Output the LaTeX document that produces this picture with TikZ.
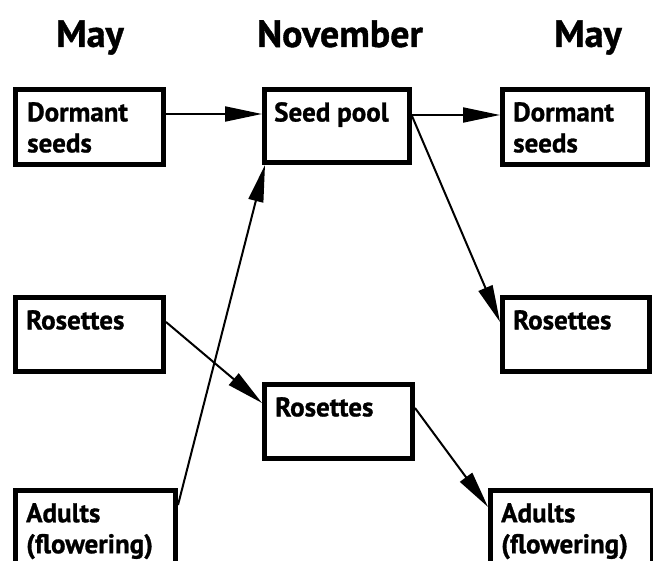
\documentclass[tikz,border=0pt]{standalone}
\usepackage{fontspec}
\setmainfont{PT Sans}[BoldFeatures={FakeBold=1}]
\usetikzlibrary{arrows.meta}
\begin{document}
\begin{tikzpicture}[x=1pt,y=-1pt,
  box/.style={draw=black, line width=5pt, fill=white, anchor=north west, inner sep=0pt},
  txt/.style={anchor=north west, inner sep=0pt, align=left, font=\bfseries\fontsize{27pt}{31pt}\selectfont},
  ttl/.style={anchor=base, inner sep=0pt, font=\bfseries\fontsize{38pt}{44pt}\selectfont},
  conn/.style={line width=2pt, -{Triangle[length=37pt,width=15pt]}}]
\useasboundingbox (0,0) rectangle (653,561);
\clip (0,0) rectangle (653,561);
\fill[white] (0,0) rectangle (653,561);
% titles
\node[ttl] (t1) at (90,47) {May};
\node[ttl] (t2) at (340,47) {November};
\node[ttl] (t3) at (588,47) {May};
% boxes (outer corners)
\node[box, minimum width=148pt, minimum height=75pt] (ds1) at (13,87) {};
\node[box, minimum width=145pt, minimum height=73pt] (sp) at (262,87) {};
\node[box, minimum width=145pt, minimum height=75pt] (ds2) at (500,87) {};
\node[box, minimum width=148pt, minimum height=74pt] (r1) at (13,295) {};
\node[box, minimum width=148pt, minimum height=74pt] (r2) at (262,382) {};
\node[box, minimum width=147pt, minimum height=74pt] (r3) at (500,295) {};
\node[box, minimum width=160pt, minimum height=120pt] (a1) at (13,488) {};
\node[box, minimum width=162pt, minimum height=120pt] (a2) at (488,488) {};
% texts
\node[txt] (l1) at ([xshift=14pt,yshift=-15pt]ds1.north west) {Dormant\\seeds};
\node[txt] (l2) at ([xshift=12pt,yshift=-15pt]sp.north west) {Seed pool};
\node[txt] (l3) at ([xshift=13pt,yshift=-15pt]ds2.north west) {Dormant\\seeds};
\node[txt] (l4) at ([xshift=13pt,yshift=-15pt]r1.north west) {Rosettes};
\node[txt] (l5) at ([xshift=13pt,yshift=-15pt]r2.north west) {Rosettes};
\node[txt] (l6) at ([xshift=13pt,yshift=-15pt]r3.north west) {Rosettes};
\node[txt] (l7) at ([xshift=13pt,yshift=-15pt]a1.north west) {Adults\\(flowering)};
\node[txt] (l8) at ([xshift=13pt,yshift=-15pt]a2.north west) {Adults\\(flowering)};
% connectors
\draw[conn] ([yshift=-27pt]ds1.north east) -- ([yshift=-27pt]sp.north west);
\draw[conn] ([yshift=-28pt]sp.north east) -- ([yshift=-28pt]ds2.north west);
\draw[conn] ([yshift=-29pt]sp.north east) -- ([yshift=-27pt]r3.north west);
\draw[conn] ([yshift=-27pt]r1.north east) -- ([yshift=-21pt]r2.north west);
\draw[conn] ([yshift=-17pt]a1.north east) -- ([xshift=3pt]sp.south west);
\draw[conn] ([yshift=-26pt]r2.north east) -- ([yshift=-19pt]a2.north west);
\end{tikzpicture}
\end{document}
